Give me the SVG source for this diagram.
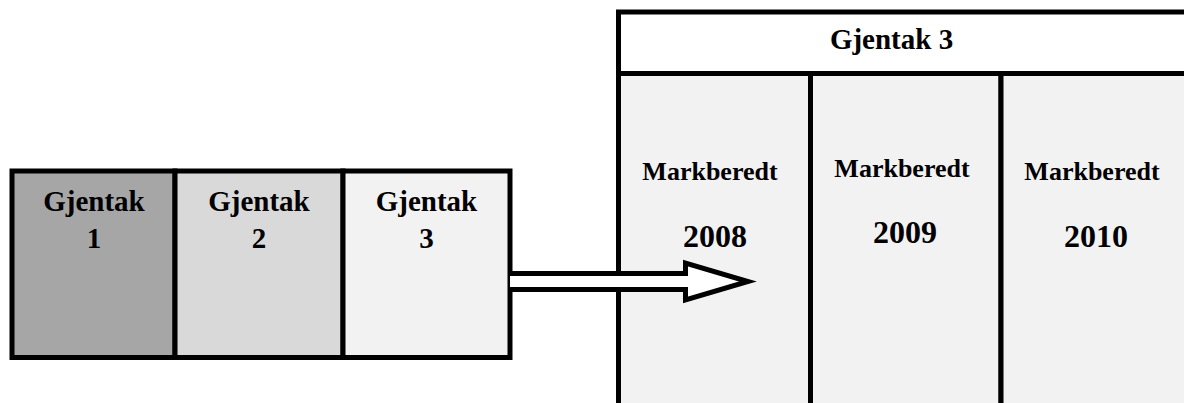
<svg xmlns="http://www.w3.org/2000/svg" width="1184" height="403" viewBox="0 0 1184 403" font-family="'Liberation Serif', 'DejaVu Serif', serif">
  <style>
    .box { stroke: #000; stroke-width: 5; }
    text { font-family: 'Liberation Serif', 'DejaVu Serif', serif; font-weight: bold; fill: #000; text-anchor: middle; }
    .big { font-size: 29px; }
    .mid { font-size: 26px; }
    .year { font-size: 32px; }
  </style>

  <!-- Left strip: three repeats -->
  <g id="gjentak1">
    <rect class="box" x="12" y="171" width="163" height="186.5" fill="#a6a6a6"/>
    <text class="big" x="94" y="211">Gjentak</text>
    <text class="big" x="94" y="248">1</text>
  </g>
  <g id="gjentak2">
    <rect class="box" x="175" y="171" width="168" height="186.5" fill="#d9d9d9"/>
    <text class="big" x="259" y="211">Gjentak</text>
    <text class="big" x="259" y="248">2</text>
  </g>
  <g id="gjentak3">
    <rect class="box" x="343" y="171" width="167" height="186.5" fill="#f2f2f2"/>
    <text class="big" x="426.5" y="211">Gjentak</text>
    <text class="big" x="426.5" y="248">3</text>
  </g>

  <!-- Right panel: expanded view of repeat 3 -->
  <g id="panel">
    <rect class="box" x="618.5" y="12" width="580" height="61.5" fill="#ffffff"/>
    <text class="big" x="891.5" y="49">Gjentak 3</text>
  </g>
  <g id="col2008">
    <rect class="box" x="618.5" y="73.5" width="192" height="340" fill="#f2f2f2"/>
    <text class="mid" x="710" y="180">Markberedt</text>
    <text class="year" x="715" y="247">2008</text>
  </g>
  <g id="col2009">
    <rect class="box" x="810.5" y="73.5" width="190.5" height="340" fill="#f2f2f2"/>
    <text class="mid" x="902" y="176.5">Markberedt</text>
    <text class="year" x="905" y="243">2009</text>
  </g>
  <g id="col2010">
    <rect class="box" x="1001" y="73.5" width="200" height="340" fill="#f2f2f2"/>
    <text class="mid" x="1092" y="180">Markberedt</text>
    <text class="year" x="1096" y="247">2010</text>
  </g>

  <!-- Connector: hollow block arrow -->
  <g id="connectors">
    <path d="M510,273.5 H685.5 V263 L748,281.5 L685.5,300 V289.5 H510" fill="#ffffff" stroke="#000" stroke-width="5" stroke-linejoin="miter" stroke-miterlimit="10"/>
  </g>
</svg>
